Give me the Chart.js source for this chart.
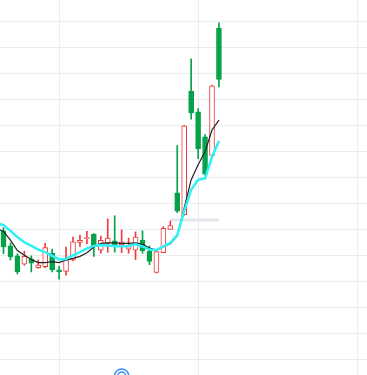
<!DOCTYPE html>
<html><head><meta charset="utf-8">
<script src="https://cdn.jsdelivr.net/npm/chart.js@4/dist/chart.umd.min.js"></script>
<style>html,body{margin:0;padding:0;background:#fff;overflow:hidden}</style>
</head><body>
<canvas id="c" width="367" height="375"></canvas>
<script>
// trading days (first one lies just left of the visible window)
const dates = ["2020-05-19","2020-05-20","2020-05-21","2020-05-22","2020-05-25","2020-05-26","2020-05-27","2020-05-28","2020-05-29",
  "2020-06-01","2020-06-02","2020-06-03","2020-06-04","2020-06-05","2020-06-08","2020-06-09","2020-06-10","2020-06-11","2020-06-12",
  "2020-06-15","2020-06-16","2020-06-17","2020-06-18","2020-06-19","2020-06-22","2020-06-23","2020-06-24","2020-06-29","2020-06-30",
  "2020-07-01","2020-07-02","2020-07-03","2020-07-06"];
const openP  = [null,10.47,10.18,9.99,9.83,9.93,9.76,9.78,10.04,9.72,9.69,9.91,10.25,10.32,10.41,10.10,10.23,10.28,10.20,10.12,10.10,10.29,10.08,9.67,10.05,10.50,11.20,10.78,13.16,12.76,12.28,11.92,14.37];
const closeP = [null,10.16,9.97,9.68,9.98,9.85,9.81,10.15,9.72,9.68,9.91,10.26,10.29,10.34,10.17,10.29,10.33,10.20,10.26,10.17,10.35,10.09,9.88,10.07,10.52,10.57,10.85,12.49,12.74,12.05,11.56,13.26,13.38];
const highP  = [null,10.53,10.24,10.03,10.08,9.99,9.91,10.23,10.12,9.79,10.16,10.35,10.39,10.46,10.42,10.37,10.70,10.76,10.49,10.33,10.45,10.47,10.18,10.08,10.55,10.66,12.11,12.50,13.78,12.82,12.32,13.27,14.47];
const lowP   = [null,10.03,9.91,9.64,9.81,9.68,9.75,9.76,9.68,9.54,9.62,9.89,10.17,10.22,9.98,10.04,10.06,10.06,10.05,10.04,9.92,10.04,9.82,9.66,10.05,10.50,10.82,10.77,12.62,11.86,11.54,11.92,13.24];
const ma5    = [10.52,10.46,10.29,10.09,10.00,9.92,9.86,9.86,9.88,9.86,9.91,9.94,9.98,10.05,10.16,10.23,10.24,10.24,10.23,10.23,10.24,10.21,10.14,10.10,10.16,10.22,10.37,10.91,11.45,11.74,11.99,12.41,12.60];
const ma10   = [10.62,10.58,10.47,10.35,10.25,10.18,10.11,10.06,9.99,9.92,9.93,10.00,10.06,10.13,10.18,10.20,10.19,10.18,10.17,10.18,10.21,10.17,10.11,10.10,10.17,10.24,10.39,10.85,11.26,11.45,11.48,11.89,12.20];
// x-axis grid lines: first trading day of each month (index on the day axis)
const monthTicks = [8, 28, 51];
// short grey marker line: from day index to day index at a price level
const markFrom = 24, markTo = 31, markPrice = 10.68;

const UP = '#ee3b3b', DOWN = '#06a24a';
const xs = dates.map((d, i) => i - 1);
const isUp = i => closeP[i] >= openP[i];

const wicks = xs.map((x, i) => ({x, y: lowP[i] == null ? null : [lowP[i], highP[i]]}));
const bodies = xs.map((x, i) => ({x, y: openP[i] == null ? null : [openP[i], closeP[i]]}));

const iconPlugin = {
  id: 'icon',
  afterDraw(chart) {
    const ctx = chart.ctx, cx = chart.scales.x.getPixelForValue(17), cy = chart.height + 1;
    ctx.save();
    ctx.strokeStyle = '#3d8ef5';
    ctx.lineWidth = 1.5;
    [7, 4].forEach(r => { ctx.beginPath(); ctx.arc(cx, cy, r, Math.PI, 2 * Math.PI); ctx.stroke(); });
    ctx.restore();
  }
};

new Chart(document.getElementById('c'), {
  data: {
    datasets: [
      {type: 'line', data: [{x: markFrom, y: markPrice}, {x: markTo, y: markPrice}], borderColor: '#e3e7ec', borderWidth: 3, pointRadius: 0, order: 6},
      {type: 'bar', data: wicks, grouped: false, barThickness: 1, borderWidth: 0,
       backgroundColor: c => isUp(c.dataIndex) ? UP : DOWN, order: 5},
      {type: 'bar', data: bodies, grouped: false, barThickness: 5, borderWidth: 1, borderSkipped: false,
       borderColor: c => isUp(c.dataIndex) ? UP : DOWN,
       backgroundColor: c => isUp(c.dataIndex) ? '#ffffff' : DOWN, order: 4},
      {type: 'line', data: xs.map((x, i) => ({x, y: ma5[i]})), borderColor: '#222222', borderWidth: 1.2, pointRadius: 0, order: 3},
      {type: 'line', data: xs.map((x, i) => ({x, y: ma10[i]})), borderColor: '#2ff0f5', borderWidth: 2.5, pointRadius: 0, order: 2}
    ]
  },
  options: {
    responsive: false, animation: false, devicePixelRatio: 1,
    layout: {padding: 0},
    plugins: {legend: {display: false}, tooltip: {enabled: false}},
    scales: {
      x: {type: 'linear', min: -0.5036, max: 52.302, offset: false,
          grid: {color: '#e8edf2', drawTicks: false, tickLength: 0, offset: false}, border: {display: false},
          ticks: {display: false},
          afterBuildTicks: s => { s.ticks = monthTicks.map(v => ({value: v})); }},
      y: {type: 'linear', min: 7.6981, max: 14.9096,
          grid: {color: '#e8edf2', drawTicks: false, tickLength: 0}, border: {display: false},
          ticks: {display: false, stepSize: 0.5, includeBounds: false}}
    }
  },
  plugins: [iconPlugin]
});
</script>
</body></html>
